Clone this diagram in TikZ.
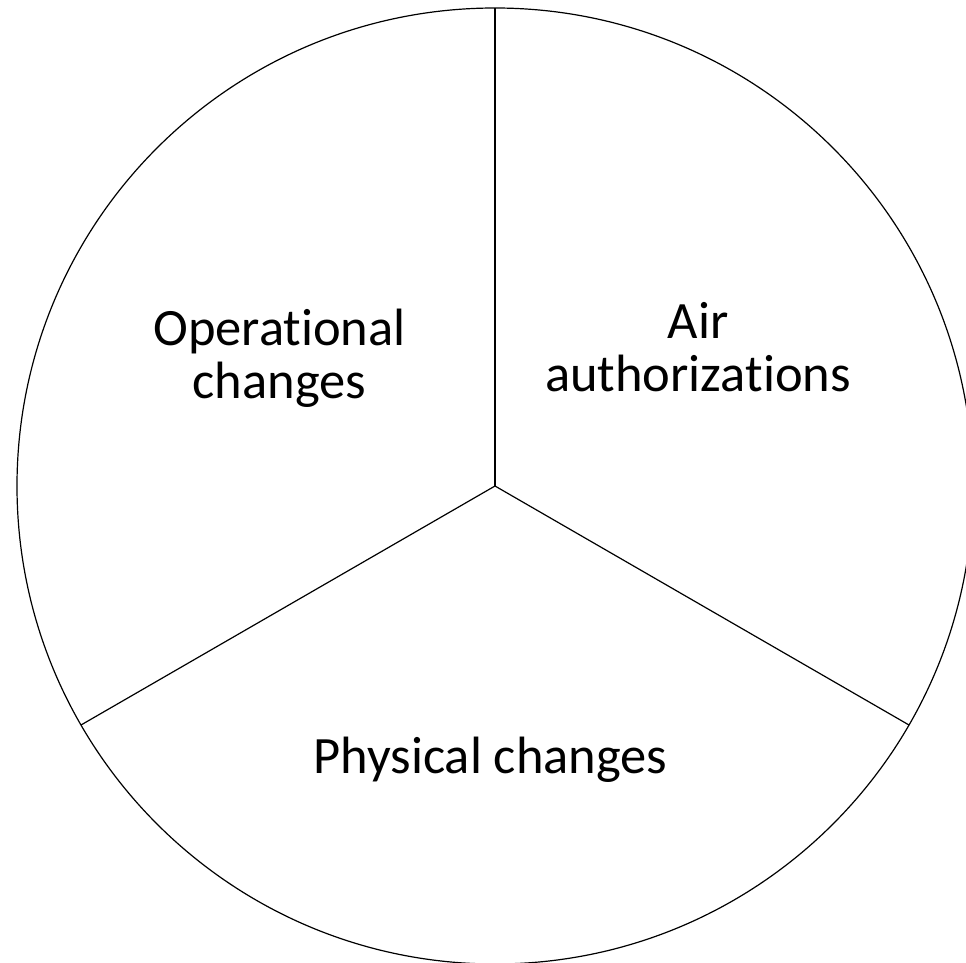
\documentclass[tikz,border=0pt]{standalone}
\usepackage{fontspec}
\setmainfont[Ligatures=NoCommon]{Carlito}
\begin{document}
\begin{tikzpicture}[x=1pt,y=-1pt]
\fontsize{52.5}{53}\selectfont
\useasboundingbox (0,0) rectangle (966,963);
\clip (0,0) rectangle (966,963);
\coordinate (center) at (495,486);
\draw[line width=1.2pt] (center) circle (478);
\coordinate (top) at (495,8);
\coordinate (lowleft) at (81,725);
\coordinate (lowright) at (909,725);
\node (opchanges) [align=center, anchor=base] at (279.5,398) {Operational\\changes};
\node (airauth) [align=center, anchor=base] at (698,391) {Air\\authorizations};
\node (physical) [anchor=base] at (490.5,773) {Physical changes};

\draw[line width=1.2pt] (center) -- (top);
\draw[line width=1.2pt] (center) -- (lowleft);
\draw[line width=1.2pt] (center) -- (lowright);
\end{tikzpicture}
\end{document}
